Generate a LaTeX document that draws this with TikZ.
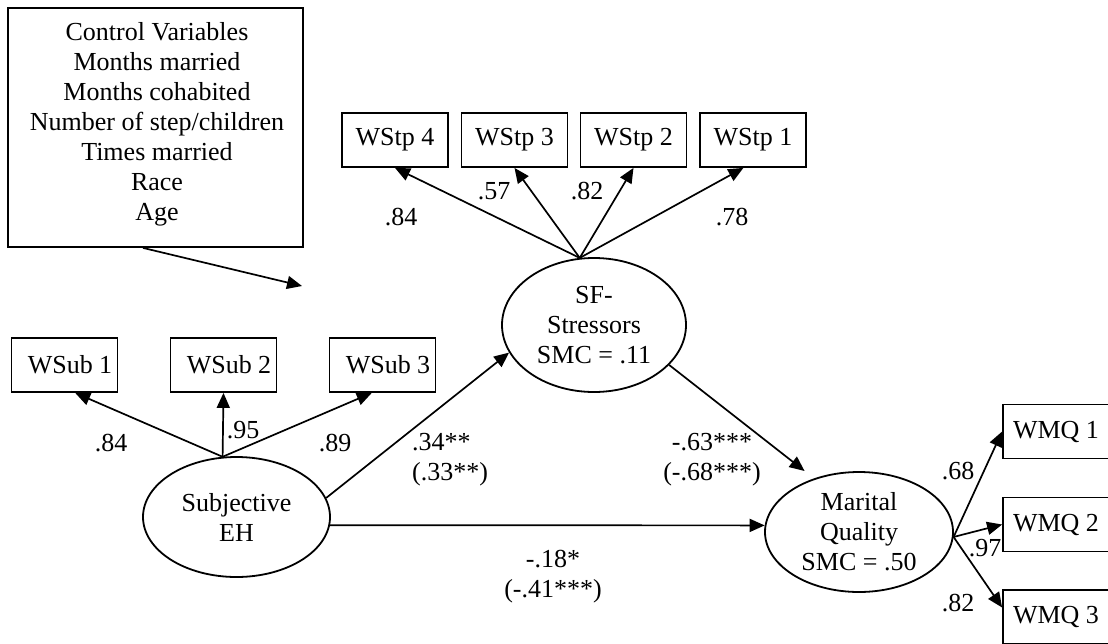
\documentclass[tikz,border=0pt]{standalone}
\usepackage{fontspec}
\setmainfont{Liberation Serif}
\usetikzlibrary{arrows.meta,shapes.geometric}
\begin{document}
\begin{tikzpicture}[x=1pt,y=-1pt,
  every node/.style={font=\fontsize{26}{30}\selectfont, inner sep=0pt},
  obs/.style={draw, line width=1.8pt, minimum width=106pt, minimum height=54pt},
  latent/.style={draw, ellipse, line width=1.8pt, align=center},
  path/.style={line width=1.7pt, -{Triangle[length=15pt,width=13pt]}},
  coef/.style={align=center}
]
\useasboundingbox (0,0) rectangle (1108,643);

% control variables
\node[draw, line width=1.8pt, minimum width=295pt, minimum height=239pt] (ctrl) at (155.5,127.5) {};
\node[align=center] (ctrltext) at (157,124.5) {Control Variables\\Months married\\Months cohabited\\Number of step/children\\Times married\\Race\\Age};
\coordinate (ctrlend) at (302,286);
\draw[path] ([xshift=-12.5pt]ctrl.south) -- (ctrlend);

% latent variables
\node[latent, minimum width=184pt, minimum height=134pt] (SF) at (594,325) {SF-\\Stressors\\SMC = .11};
\node[latent, minimum width=187pt, minimum height=120pt] (Subj) at (236.5,517) {Subjective\\EH};
\node[latent, minimum width=188pt, minimum height=120pt] (MQ) at (859,532) {Marital\\Quality\\SMC = .50};

% indicators
\node[obs] (WStp4) at (395,140) {WStp 4};
\node[obs] (WStp3) at (514.5,140) {WStp 3};
\node[obs] (WStp2) at (633.5,140) {WStp 2};
\node[obs] (WStp1) at (753,140) {WStp 1};
\node[obs] (WSub1) at (64.5,365) {\hspace*{11pt}WSub 1};
\node[obs] (WSub2) at (223.5,365) {\hspace*{11pt}WSub 2};
\node[obs] (WSub3) at (382.5,365) {\hspace*{11pt}WSub 3};
\node[obs] (WMQ1) at (1056,431.5) {WMQ 1};
\node[obs] (WMQ2) at (1056,524.5) {WMQ 2};
\node[obs] (WMQ3) at (1056,617) {WMQ 3};

% loadings
\draw[path] (SF.102) -- (WStp4.south);
\draw[path] (SF.102) -- (WStp3.south);
\draw[path] (SF.102) -- (WStp2.south);
\draw[path] (SF.102) -- (WStp1.-109);
\draw[path] (Subj.103) -- (WSub1.-69);
\draw[path] (Subj.103) -- (WSub2.south);
\draw[path] (Subj.103) -- (WSub3.-111);
\draw[path] (MQ.-3) -- (WMQ1.west);
\draw[path] (MQ.-3) -- (WMQ2.west);
\draw[path] (MQ.-3) -- (WMQ3.170);

% structural paths
\draw[path] (Subj.12) -- (SF.-162);
\draw[path] (Subj.-5.6) -- (MQ.176.3);
\draw[path, shorten >=12pt] (SF.-28) -- (MQ.130);

% coefficients
\node (cStp4) at (401,217) {.84};
\node (cStp3) at (494,191) {.57};
\node (cStp2) at (587,191) {.82};
\node (cStp1) at (732,217) {.78};
\node (cSub1) at (111,443) {.84};
\node (cSub2) at (243,430) {.95};
\node (cSub3) at (335,443) {.89};
\node (cMQ1) at (958,471) {.68};
\node (cMQ2) at (985,548) {.97};
\node (cMQ3) at (958,603) {.82};
\node[align=left, anchor=west] (cSubSF) at (412,460) {.34**\\(.33**)};
\node[coef] (cSFMQ) at (712,460) {-.63***\\(-.68***)};
\node[coef] (cSubMQ) at (553,577) {-.18*\\(-.41***)};
\end{tikzpicture}
\end{document}
